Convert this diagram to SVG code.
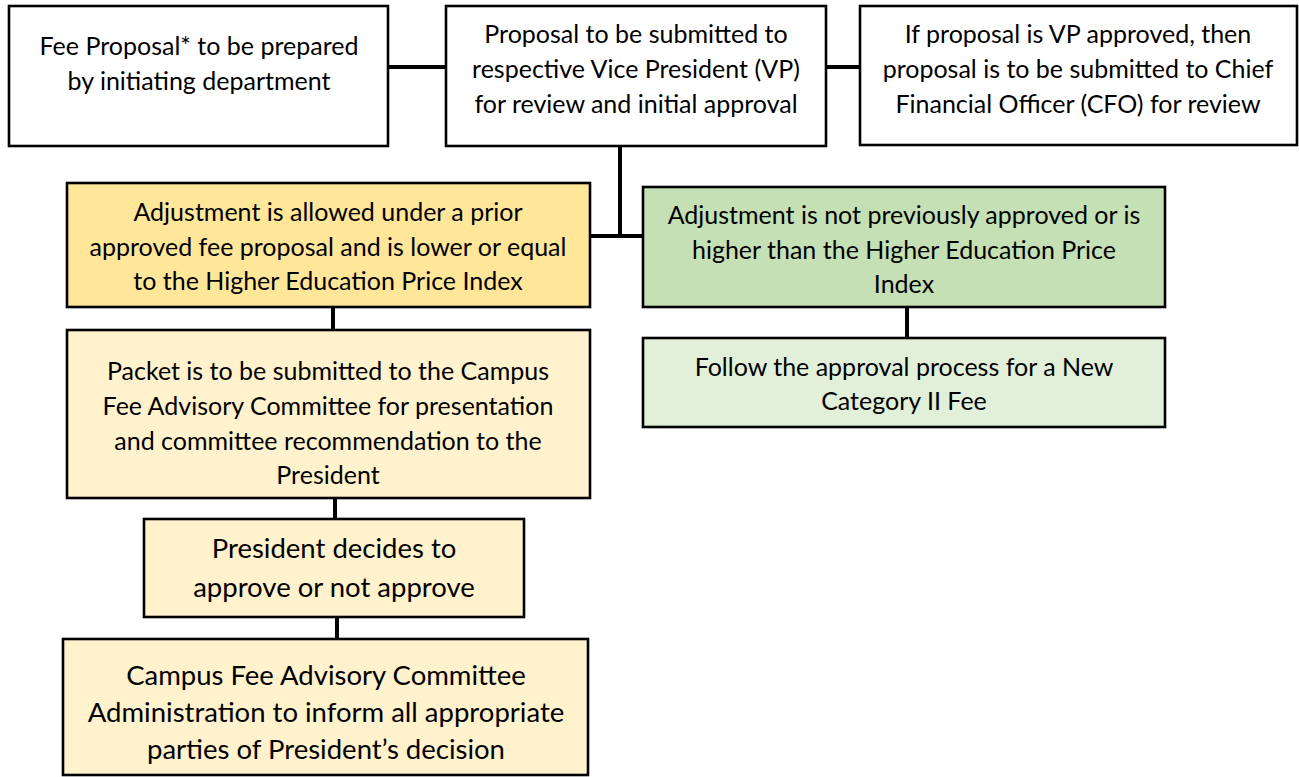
<svg xmlns="http://www.w3.org/2000/svg" width="1299" height="777" viewBox="0 0 1299 777">
<style>
.box{stroke:#000;stroke-width:2.6}
.w{fill:#fff}
.y1{fill:#FFE699}
.y2{fill:#FFF2CC}
.g1{fill:#C5E0B4}
.g2{fill:#E2F0D9}
text{font-family:Lato,"Open Sans","Liberation Sans",sans-serif;fill:#000;text-anchor:middle}
.t20{font-size:25px}
.t22{font-size:27.5px}
.con line{stroke:#000;stroke-width:4}
</style>
<rect width="1299" height="777" fill="#fff"/>
<g class="con" id="connectors">
<line x1="388" y1="67" x2="446" y2="67"/>
<line x1="826" y1="67" x2="860" y2="67"/>
<line x1="620" y1="146" x2="620" y2="238"/>
<line x1="590" y1="236" x2="643" y2="236"/>
<line x1="333" y1="307" x2="333" y2="330"/>
<line x1="907" y1="307" x2="907" y2="338"/>
<line x1="335" y1="498" x2="335" y2="519"/>
<line x1="337" y1="617" x2="337" y2="639"/>
</g>
<g id="n1"><rect class="box w" x="9" y="6" width="379" height="140"/>
<text class="t20" x="199" y="55">Fee Proposal* to be prepared</text>
<text class="t20" x="199" y="90">by initiating department</text></g>
<g id="n2"><rect class="box w" x="446" y="6" width="380" height="140"/>
<text class="t20" x="636" y="43">Proposal to be submitted to</text>
<text class="t20" x="636" y="78">respective Vice President (VP)</text>
<text class="t20" x="636" y="113">for review and initial approval</text></g>
<g id="n3"><rect class="box w" x="860" y="6" width="437" height="139"/>
<text class="t20" x="1078" y="43">If proposal is VP approved, then</text>
<text class="t20" x="1078" y="78">proposal is to be submitted to Chief</text>
<text class="t20" x="1078" y="113">Financial Officer (CFO) for review</text></g>
<g id="nA"><rect class="box y1" x="67" y="183" width="523" height="124"/>
<text class="t20" x="328" y="221">Adjustment is allowed under a prior</text>
<text class="t20" x="328" y="256">approved fee proposal and is lower or equal</text>
<text class="t20" x="328" y="290">to the Higher Education Price Index</text></g>
<g id="nB"><rect class="box g1" x="643" y="187" width="522" height="120"/>
<text class="t20" x="904" y="224">Adjustment is not previously approved or is</text>
<text class="t20" x="904" y="259">higher than the Higher Education Price</text>
<text class="t20" x="904" y="293">Index</text></g>
<g id="nC"><rect class="box y2" x="67" y="330" width="523" height="168"/>
<text class="t20" x="328" y="380">Packet is to be submitted to the Campus</text>
<text class="t20" x="328" y="415">Fee Advisory Committee for presentation</text>
<text class="t20" x="328" y="450">and committee recommendation to the</text>
<text class="t20" x="328" y="484">President</text></g>
<g id="nD"><rect class="box g2" x="643" y="338" width="522" height="89"/>
<text class="t20" x="904" y="376">Follow the approval process for a New</text>
<text class="t20" x="904" y="410">Category II Fee</text></g>
<g id="nE"><rect class="box y2" x="144" y="519" width="380" height="98"/>
<text class="t22" x="334" y="558">President decides to</text>
<text class="t22" x="334" y="597">approve or not approve</text></g>
<g id="nF"><rect class="box y2" x="63" y="639" width="525" height="136"/>
<text class="t22" x="326" y="685">Campus Fee Advisory Committee</text>
<text class="t22" x="326" y="722">Administration to inform all appropriate</text>
<text class="t22" x="326" y="759">parties of President’s decision</text></g>
</svg>
